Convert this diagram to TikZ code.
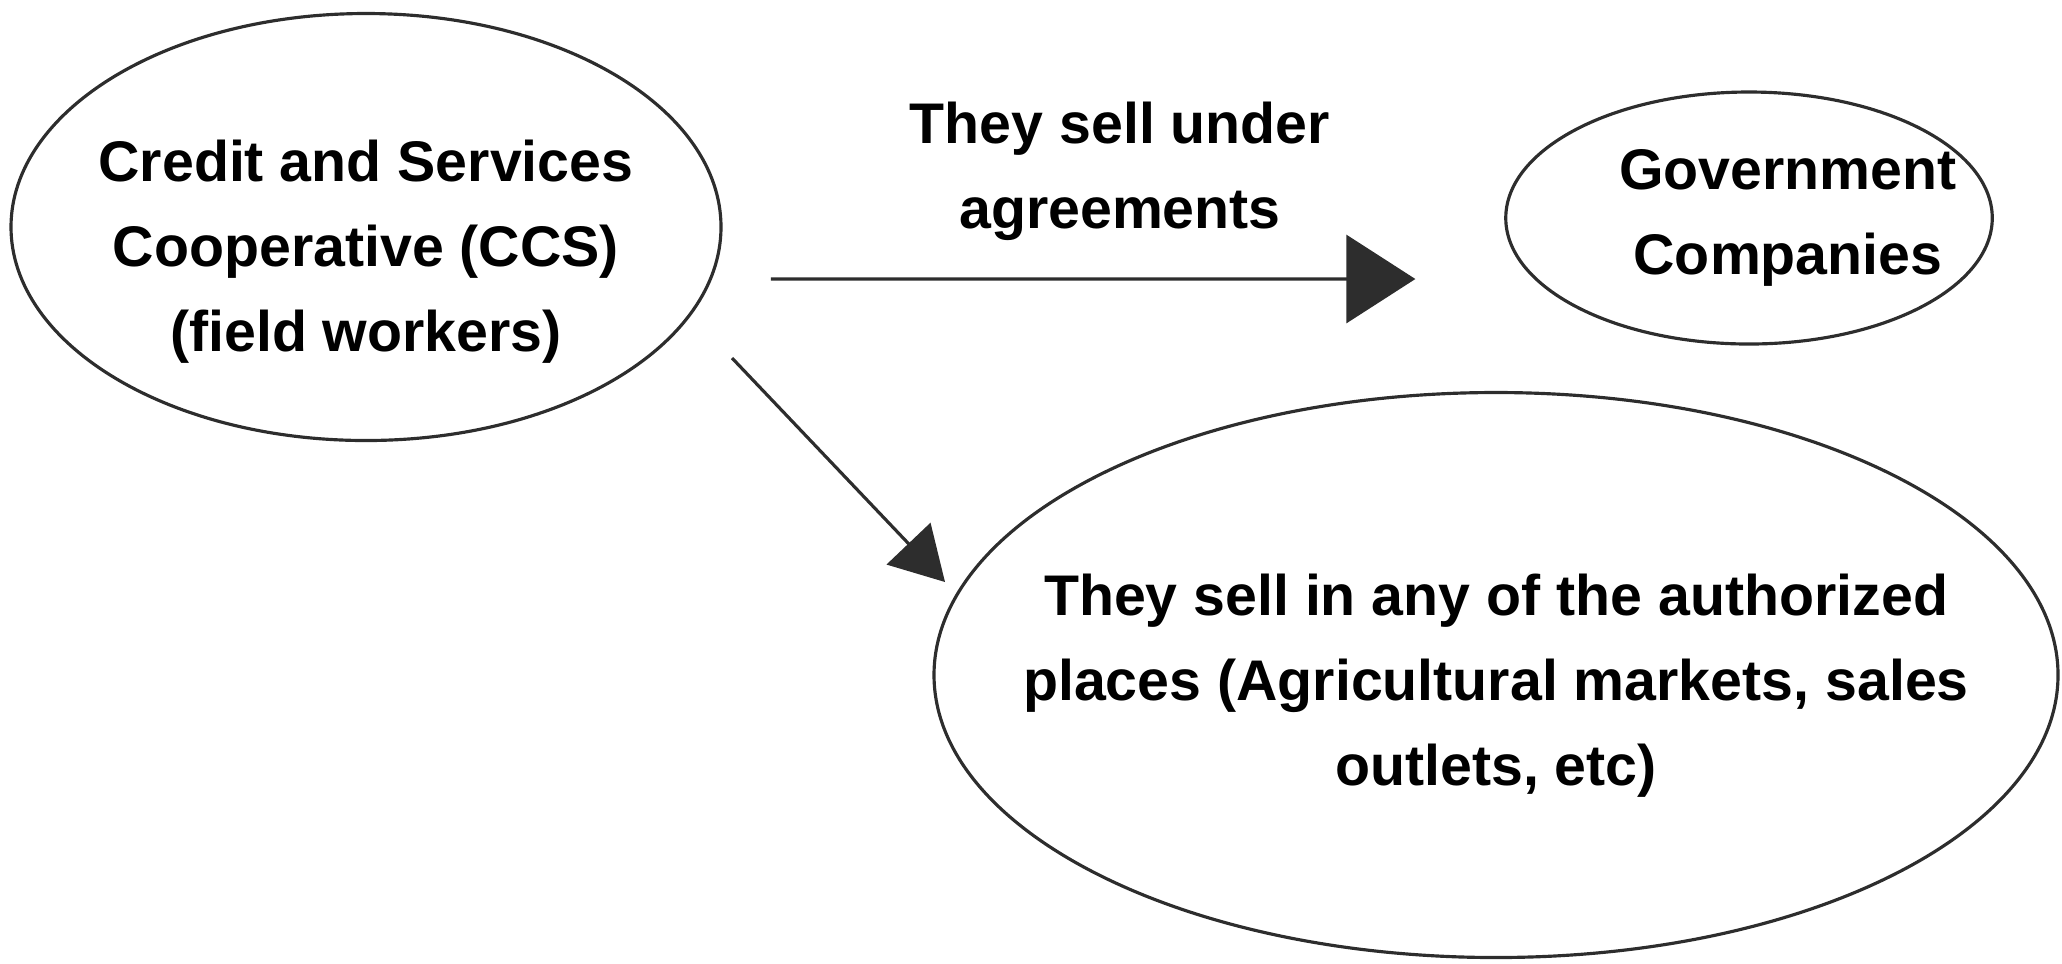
\documentclass[tikz,border=0pt]{standalone}
\usepackage{fontspec}
\setmainfont{Liberation Sans}
\definecolor{inkgray}{RGB}{45, 45, 45}
\usepackage{tikz}
\usetikzlibrary{shapes.geometric, arrows.meta, positioning, calc}

\begin{document}
\begin{tikzpicture}[
    oval/.style={ellipse, draw=inkgray, line width=0.9pt, inner sep=0pt},
    ovaltext/.style={font=\bfseries\fontsize{16.3}{24.2}\selectfont, align=center, text=black},
    bigarrow/.style={draw=inkgray, line width=0.9pt, -{Triangle[length=6.9mm, width=8.8mm]}},
    midarrow/.style={draw=inkgray, line width=0.9pt, -{Triangle[length=5.3mm, width=6mm]}}
  ]
  \useasboundingbox (0, 0) rectangle (20.62, -9.63);

  % Ovals
  \node[oval, minimum width=7.10cm, minimum height=4.27cm,
    label={[ovaltext, yshift=-2.5mm]center:Credit and Services\\Cooperative (CCS)\\(field workers)}]
    (ccs) at (3.66, -2.27) {};
  \node[oval, minimum width=4.865cm, minimum height=2.52cm,
    label={[ovaltext, xshift=3.9mm]center:Government\\Companies}]
    (gov) at (17.49, -2.18) {};
  \node[oval, minimum width=11.24cm, minimum height=5.65cm,
    label={[ovaltext, yshift=-1.1mm]center:They sell in any of the authorized\\places (Agricultural markets, sales\\outlets, etc)}]
    (places) at (14.96, -6.75) {};

  % Sales under agreements
  \draw[bigarrow, shorten <=4.84mm, shorten >=8.88mm]
    ([yshift=-5.2mm]ccs.east) -- ([yshift=-6.1mm]gov.west);
  \node[ovaltext] (agree) at (11.20, -1.715) {They sell under\\agreements};

  % Sales in authorized places
  \coordinate (sellfrom) at ($(ccs.center) + (3.66, -1.31)$);
  \coordinate (sellto) at ($(places.center) + (-5.51, 0.93)$);
  \draw[midarrow] (sellfrom) -- (sellto);
\end{tikzpicture}
\end{document}
